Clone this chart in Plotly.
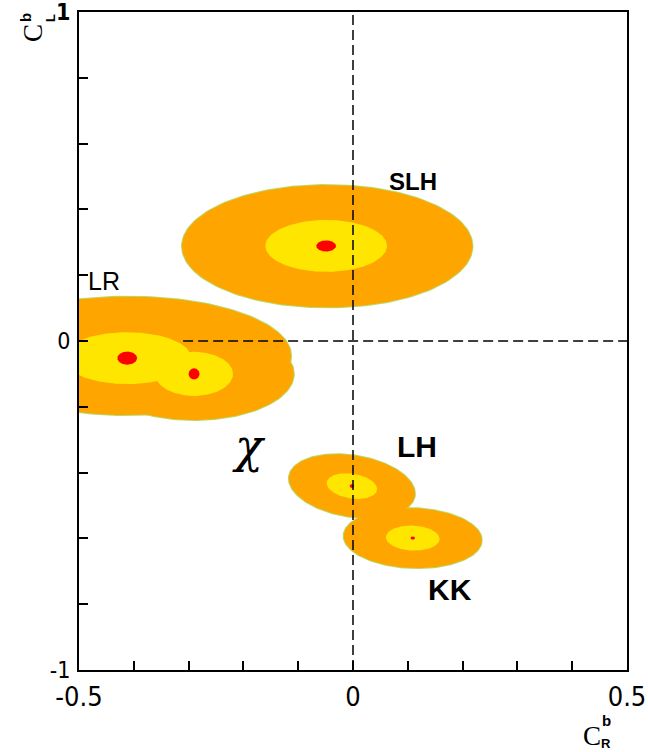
import numpy as np
import plotly.graph_objects as go

# Confidence regions in the (C_R^b, C_L^b) plane: centre, semi-axes per level, tilt
ORANGE = "#FFA500"
YELLOW = "#FFE600"
RED = "#FF0000"
EDGE = "#B9DA6A"

region_cx = [-0.047, -0.41, -0.290, -0.002, 0.109]
region_cy = [0.288, -0.045, -0.100, -0.441, -0.599]
outer_rx = [0.265, 0.297, 0.182, 0.115, 0.126]
outer_ry = [0.186, 0.180, 0.140, 0.094, 0.091]
inner_cx = [-0.049, -0.412, -0.290, -0.002, 0.109]
inner_cy = [0.289, -0.052, -0.100, -0.441, -0.599]
inner_rx = [0.111, 0.117, 0.071, 0.046, 0.049]
inner_ry = [0.079, 0.079, 0.067, 0.038, 0.038]
best_rx = [0.018, 0.018, 0.010, 0.004, 0.004]
best_ry = [0.017, 0.020, 0.017, 0.006, 0.005]
tilt = [0.0, 0.0, 0.0, -0.2, -0.05]

# Model labels
label_names = ["SLH", "LR", "LH", "KK", "χ"]
label_x = [0.109, -0.455, 0.117, 0.177, -0.190]
label_y = [0.486, 0.182, -0.322, -0.754, -0.318]

# Axis ticks
x_ticks = [-0.5, -0.4, -0.3, -0.2, -0.1, 0.0, 0.1, 0.2, 0.3, 0.4, 0.5]
x_ticktext = ["-0.5", "", "", "", "", "0", "", "", "", "", "0.5"]
y_ticks = [-1.0, -0.8, -0.6, -0.4, -0.2, 0.0, 0.2, 0.4, 0.6, 0.8, 1.0]
y_ticktext = ["-1", "", "", "", "", "0", "", "", "", "", "<b>1</b>"]

# Reference lines
hline_x = [-0.31, 0.5]
hline_y = [0.0, 0.0]
vline_x = [0.0, 0.0]
vline_y = [-1.0, 1.0]

theta = np.linspace(0, 2 * np.pi, 181)


def ellipse(cx, cy, rx, ry, k):
    dx = rx * np.cos(theta)
    return cx + dx, cy + ry * np.sin(theta) + k * dx


fig = go.Figure()


def add_fill(xs, ys, color, lw=0, lc=None):
    fig.add_trace(go.Scatter(
        x=xs, y=ys, mode="lines", fill="toself", fillcolor=color,
        line=dict(width=lw, color=lc if lc else color),
        hoverinfo="skip", showlegend=False))


n = len(region_cx)
# outer contour with its thin edge, then the fill again so overlaps merge
for i in range(n):
    xs, ys = ellipse(region_cx[i], region_cy[i], outer_rx[i], outer_ry[i], tilt[i])
    add_fill(xs, ys, ORANGE, 2.0, EDGE)
for i in range(n):
    xs, ys = ellipse(region_cx[i], region_cy[i], outer_rx[i], outer_ry[i], tilt[i])
    add_fill(xs, ys, ORANGE, 0)
for i in range(n):
    xs, ys = ellipse(inner_cx[i], inner_cy[i], inner_rx[i], inner_ry[i], tilt[i])
    add_fill(xs, ys, YELLOW, 0)
for i in range(n):
    xs, ys = ellipse(inner_cx[i], inner_cy[i], best_rx[i], best_ry[i], 0.0)
    add_fill(xs, ys, RED, 0)

# dashed axes through the origin
for xs, ys in [(hline_x, hline_y), (vline_x, vline_y)]:
    fig.add_trace(go.Scatter(x=xs, y=ys, mode="lines",
                             line=dict(color="black", width=1.5, dash="10px,5px"),
                             hoverinfo="skip", showlegend=False))

label_fonts = [
    dict(family="Liberation Sans", size=24, color="black", weight="bold"),
    dict(family="Liberation Sans", size=25, color="black"),
    dict(family="Liberation Sans", size=30, color="black", weight="bold"),
    dict(family="Liberation Sans", size=30, color="black", weight="bold"),
    dict(family="DejaVu Serif", size=46, color="black", style="italic"),
]
for name, lx, ly, f in zip(label_names, label_x, label_y, label_fonts):
    fig.add_annotation(x=lx, y=ly, text=name, showarrow=False, font=f,
                       xanchor="center", yanchor="middle")

# axis titles, built from separate pieces for the stacked sub/superscripts
L, T, W, H = 79, 12, 548, 658


def px_to_paper(px, py):
    return (px - L) / W, (T + H - py) / H


title_parts = [
    ("C", 592, 736, 27, 0, "Liberation Serif", "normal"),
    ("b", 606, 720, 15, 0, "Liberation Sans", "bold"),
    ("R", 606, 743, 13, 0, "Liberation Sans", "bold"),
    ("C", 33, 33, 27, -90, "Liberation Serif", "normal"),
    ("b", 25, 18, 15, -90, "Liberation Sans", "bold"),
    ("L", 50, 18, 13, -90, "Liberation Sans", "bold"),
]
for txt, px, py, sz, ang, fam, wt in title_parts:
    ax_, ay_ = px_to_paper(px, py)
    fig.add_annotation(x=ax_, y=ay_, xref="paper", yref="paper", text=txt,
                       showarrow=False, textangle=ang,
                       font=dict(family=fam, size=sz, color="black", weight=wt),
                       xanchor="center", yanchor="middle")

x_tick_font = dict(family="Liberation Sans Narrow, DejaVu Sans Condensed, Liberation Sans",
                   size=27, color="black")
y_tick_font = dict(family="Liberation Sans Narrow, DejaVu Sans Condensed, Liberation Sans",
                   size=23, color="black")
fig.update_layout(
    width=648, height=752,
    margin=dict(l=L, r=648 - L - W, t=T, b=752 - T - H, autoexpand=False),
    paper_bgcolor="white", plot_bgcolor="white",
    xaxis=dict(range=[-0.5, 0.5], tickvals=x_ticks, ticktext=x_ticktext,
               ticks="inside", ticklen=9, tickwidth=1.5, tickcolor="black",
               showline=True, linecolor="black", linewidth=2, mirror=True,
               showgrid=False, zeroline=False, tickfont=x_tick_font,
               ticklabelstandoff=2, automargin=False, ticklabeloverflow="allow"),
    yaxis=dict(range=[-1, 1], tickvals=y_ticks, ticktext=y_ticktext,
               ticks="inside", ticklen=9, tickwidth=1.5, tickcolor="black",
               showline=True, linecolor="black", linewidth=2, mirror=True,
               showgrid=False, zeroline=False, tickfont=y_tick_font,
               ticklabelstandoff=2, automargin=False, ticklabeloverflow="allow"),
)

fig.write_html("out.html")
